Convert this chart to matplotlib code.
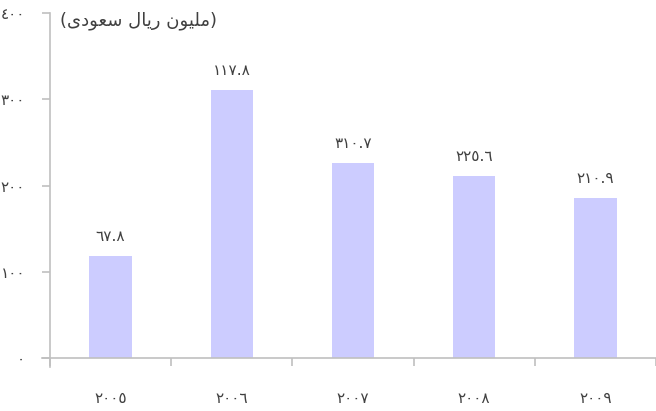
import matplotlib
matplotlib.use("Agg")
import matplotlib.pyplot as plt
from matplotlib.ticker import FixedLocator

YEARS = ["٢٠٠٥", "٢٠٠٦", "٢٠٠٧", "٢٠٠٨", "٢٠٠٩"]
VALUES = [117.8, 310.7, 225.6, 210.9, 185.5]
# value labels as printed above the bars
BAR_LABELS = ["٦٧.٨", "١١٧.٨", "٣١٠.٧", "٢٢٥.٦", "٢١٠.٩"]
Y_TICKS = [0, 100, 200, 300, 400]
Y_TICK_LABELS = ["٠", "١٠٠", "٢٠٠", "٣٠٠", "٤٠٠"]

# "(مليون ريال سعودي)" pre-shaped, in visual (left-to-right) order
TITLE = ("(" + "\uFEEF\uFEA9\uFEEE\uFECC\uFEB3" + " "
         + "\uFEDD\uFE8E\uFEF3\uFEAD" + " "
         + "\uFEE5\uFEEE\uFEF4\uFEE0\uFEE3" + ")")

BAR_COLOR = "#ccccff"
AXIS_COLOR = "#c0c0c0"
TEXT_COLOR = "#404040"

plt.rcParams["font.family"] = ["DejaVu Sans"]

fig = plt.figure(figsize=(6.56, 4.11), dpi=100)
ax = fig.add_axes([50 / 656, 53 / 411, 606 / 656, 345 / 411])

x = list(range(len(YEARS)))
ax.bar(x, VALUES, width=0.35, color=BAR_COLOR, zorder=2)

for xi, v, lab in zip(x, VALUES, BAR_LABELS):
    ax.annotate(lab, (xi, v), xytext=(0, 9), textcoords="offset points",
                ha="center", va="bottom", fontsize=11, color=TEXT_COLOR)

ax.set_xlim(-0.5, 4.5)
ax.set_ylim(0, 400)

for s in ("top", "right"):
    ax.spines[s].set_visible(False)
ax.spines["left"].set_color(AXIS_COLOR)
ax.spines["bottom"].set_color(AXIS_COLOR)
ax.spines["left"].set_linewidth(1.2)
ax.spines["bottom"].set_linewidth(1.2)
ax.spines["left"].set_bounds(-11, 400)
ax.spines["bottom"].set_bounds(-0.565, 4.5)

ax.set_yticks(Y_TICKS)
ax.set_yticklabels(Y_TICK_LABELS)
ax.tick_params(axis="y", length=6, width=1.2, color=AXIS_COLOR, pad=12,
               labelsize=11, labelcolor=TEXT_COLOR)

ax.set_xticks(x)
ax.set_xticklabels(YEARS)
ax.tick_params(axis="x", which="major", length=0, pad=24,
               labelsize=11, labelcolor=TEXT_COLOR)
ax.xaxis.set_minor_locator(FixedLocator([i - 0.5 for i in range(len(YEARS) + 1)]))
ax.tick_params(axis="x", which="minor", length=6, width=1.2, color=AXIS_COLOR)

fig.text(60 / 656, 1 - 21 / 411, TITLE, ha="left", va="center",
         fontsize=13, color=TEXT_COLOR)

fig.savefig("out.png", dpi=100)
